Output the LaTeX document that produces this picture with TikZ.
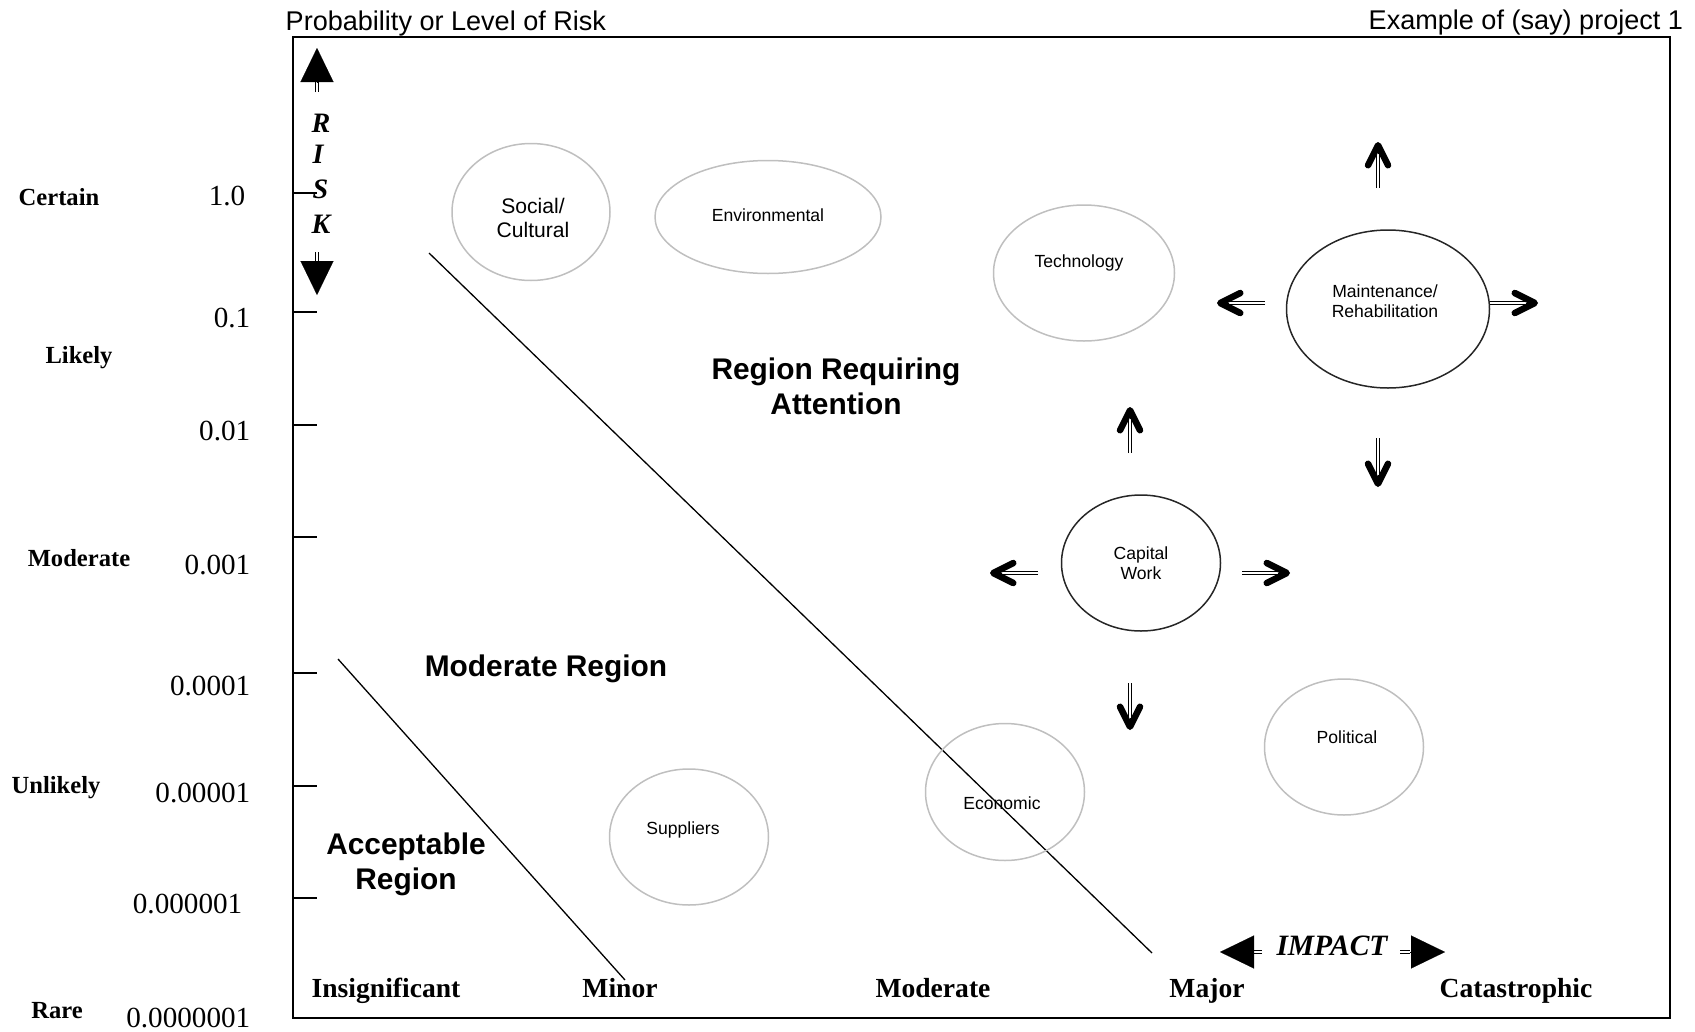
\documentclass[tikz,border=0pt]{standalone}
\usepackage{fontspec}
\setmainfont{Liberation Serif}
\setsansfont{Liberation Sans}
\usepackage{tikz}
\usetikzlibrary{shapes.geometric, arrows.meta, positioning}
\usetikzlibrary{calc}
\newcommand{\dblarrow}[4]{%
  \path [draw, Shaft, shorten >=#4] (#2) -- (#3);
  \path [draw, line width=0.01mm, #1] ($(#3)!#4!(#2)$) -- (#3);
}

\begin{document}
\begin{tikzpicture}
  [
    x=0.1mm, y=-0.1mm,
    Faint/.style={ellipse, draw=black!25, line width=0.15mm, inner sep=0pt},
    Dark/.style={ellipse, draw=black!85, line width=0.15mm, inner sep=0pt},
    Lbl/.style={font=\sffamily\fontsize{5}{5.7}\selectfont, align=center, inner sep=0pt},
    Head/.style={font=\sffamily\fontsize{7.7}{9}\selectfont, inner sep=0pt, anchor=base west},
    Zone/.style={font=\sffamily\bfseries\fontsize{8.5}{10}\selectfont, align=center, inner sep=0pt},
    Num/.style={font=\fontsize{8.3}{10}\selectfont, inner sep=0pt, anchor=base east},
    Cat/.style={font=\bfseries\fontsize{7}{8.4}\selectfont, inner sep=0pt, anchor=base},
    Imp/.style={font=\bfseries\fontsize{7.85}{9.4}\selectfont, inner sep=0pt, anchor=base},
    Letter/.style={font=\bfseries\itshape\fontsize{8}{9.6}\selectfont, inner sep=0pt, anchor=base west},
    Shaft/.style={double, double distance=0.25mm, line width=0.12mm},
    Barb/.style={-{Straight Barb[length=2mm, width=2mm, line width=0.65mm, round]}},
    Tri/.style={-{Triangle[length=3.4mm, width=3.3mm]}}
  ]
  \useasboundingbox (0, 0) rectangle (1695, 1032);
  % Frame
  \path [draw, line width=0.2mm] (293, 37) rectangle (1670, 1018);
  \foreach \y in {193, 312, 425, 537, 673, 786, 898}
    \path [draw, line width=0.15mm] (293, \y) -- (317, \y);
  % Headings
  \node[Head] (title) at(285, 30) {Probability or Level of Risk};
  \node[Head] (proj) at(1368, 29) {Example of (say) project 1};
  % Scale
  \foreach \t/\x/\y [count=\i] in {1.0/246/205, 0.1/251/327, 0.01/251/440, 0.001/251/574,
      0.0001/251/695, 0.00001/251/802, 0.000001/243/913, 0.0000001/251/1027}
    \node[Num] (p\i) at(\x, \y) {\t};
  \foreach \t/\x/\y [count=\i] in {Certain/59/205, Likely/79/363, Moderate/79/566,
      Unlikely/56/793, Rare/57/1018}
    \node[Cat] (c\i) at(\x, \y) {\t};
  \foreach \t/\x [count=\i] in {Insignificant/386, Minor/620, Moderate/933, Major/1207,
      Catastrophic/1516}
    \node[Imp] (m\i) at(\x, 997) {\t};
  % RISK and IMPACT
  \node[Letter] (r1) at(311, 132) {R};
  \node[Letter] (r2) at(312, 163) {I};
  \node[Letter] (r3) at(312, 198) {S};
  \node[Letter] (r4) at(311, 233) {K};
  \node[Imp, font=\bfseries\itshape\fontsize{8.4}{10}\selectfont] (impact) at(1332, 955) {IMPACT};
  \coordinate (ru0) at(317, 92);  \coordinate (ru1) at(317, 48);
  \coordinate (rd0) at(317, 252); \coordinate (rd1) at(317, 295);
  \coordinate (il0) at(1262, 952); \coordinate (il1) at(1220, 952);
  \coordinate (ir0) at(1400, 952); \coordinate (ir1) at(1445, 952);
  \dblarrow{Tri}{ru0}{ru1}{3.4mm}
  \dblarrow{Tri}{rd0}{rd1}{3.3mm}
  \dblarrow{Tri}{il0}{il1}{3.3mm}
  \dblarrow{Tri}{ir0}{ir1}{3.5mm}
  % Regions
  \node[Zone] (attn) at(836, 386) {Region Requiring\\Attention};
  \node[Zone, anchor=base] (mid) at(546, 676) {Moderate Region};
  \node[Zone] (ok) at(406, 864) {Acceptable\\Region};
  \path [draw, line width=0.13mm] (429, 253) -- (1152, 953);
  \path [draw, line width=0.13mm] (338, 659) -- (625, 980);
  % Nodes
  \node[Faint, minimum width=15.8mm, minimum height=13.7mm,
    label={[Lbl, font=\sffamily\fontsize{6}{6.8}\selectfont, xshift=0.2mm, yshift=-0.6mm]center:{Social/\\Cultural}}] (social) at(531, 212) {};
  \node[Faint, minimum width=22.6mm, minimum height=11.3mm,
    label={[Lbl, yshift=0.2mm]center:Environmental}] (env) at(768, 217) {};
  \node[Faint, minimum width=18.1mm, minimum height=13.6mm,
    label={[Lbl, xshift=-0.5mm, yshift=1mm]center:Technology}] (tech) at(1084, 273) {};
  \node[Dark, minimum width=20.3mm, minimum height=15.8mm,
    label={[Lbl, xshift=-0.3mm, yshift=0.75mm]center:{Maintenance/\\Rehabilitation}}] (maint) at(1388, 309) {};
  \node[Dark, minimum width=15.9mm, minimum height=13.6mm,
    label={[Lbl]center:{Capital\\Work}}] (cap) at(1141, 563) {};
  \node[Faint, minimum width=15.9mm, minimum height=13.6mm,
    label={[Lbl, xshift=0.3mm, yshift=1mm]center:Political}] (pol) at(1344, 747) {};
  \node[Faint, minimum width=15.9mm, minimum height=13.7mm,
    label={[Lbl, xshift=-0.3mm, yshift=-1.1mm]center:Economic}] (eco) at(1005, 792) {};
  \node[Faint, minimum width=15.9mm, minimum height=13.6mm,
    label={[Lbl, xshift=-0.6mm, yshift=0.75mm]center:Suppliers}] (sup) at(689, 837) {};
  % Arrows
  \foreach \a/\b/\c/\d in {1378/188/1378/142, 1265/303/1217/303, 1490/303/1538/303,
      1378/438/1378/487, 1130/453/1130/407, 1038/573/990/573, 1242/573/1290/573,
      1130/683/1130/730}
  {
    \coordinate (from) at(\a, \b);
    \coordinate (to) at(\c, \d);
    \dblarrow{Barb}{from}{to}{1.2mm}
  }
\end{tikzpicture}
\end{document}
